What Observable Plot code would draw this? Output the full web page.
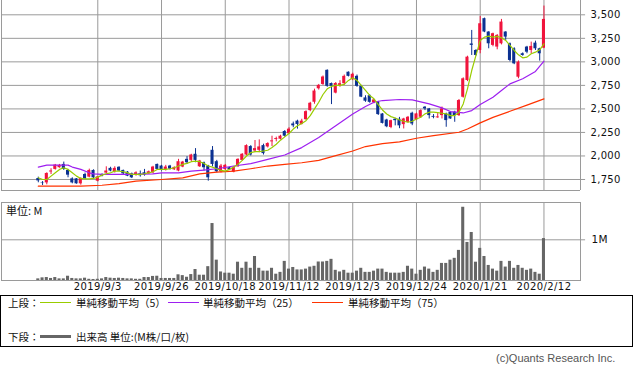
<!DOCTYPE html>
<html><head><meta charset="utf-8">
<script src="https://cdn.jsdelivr.net/npm/d3@7"></script>
<script src="https://cdn.jsdelivr.net/npm/@observablehq/plot@0.6"></script>
<style>
body{margin:0;background:#fff;}
#wrap{position:relative;width:633px;height:375px;overflow:hidden;background:#fff;}
.abs{position:absolute;white-space:nowrap;}
.jp{font-family:"Noto Sans CJK JP","DejaVu Sans",sans-serif;color:#111;}
</style></head><body><div id="wrap"></div>
<script>
// ---- data ----
const open  = [1760,1712,1714,1830,1857,1875,1910,1846,1757,1757,1704,1803,1775,1846,1732,1800,1818,1868,1832,1880,
1846,1828,1810,1793,1810,1821,1810,1821,1910,1893,1857,1893,1853,1840,1882,1964,1953,2018,1885,1928,
1893,2060,1939,1832,1857,1875,1828,1885,1953,2010,2100,2053,2060,2110,2096,2150,2175,2178,2260,2235,
2340,2370,2335,2385,2482,2571,2714,2760,2910,2770,2668,2750,2768,2890,2810,2846,2740,2617,2640,2565,
2570,2446,2382,2303,2390,2390,2333,2358,2454,2383,2411,2518,2500,2420,2405,2429,2447,2465,2465,2429,
2624,2802,3190,3121,3121,3459,3317,3175,3157,3192,3317,3192,3139,2837,3086,3157,3121,3199,3139,3146];
const high  = [1775,1728,1821,1864,1910,1910,1935,1857,1768,1760,1768,1818,1860,1853,1782,1810,1885,1880,1885,1885,
1850,1835,1818,1832,1840,1857,1840,1890,1914,1900,1900,1900,1885,1964,1942,1993,2018,2078,1953,1935,
1900,2100,1953,1910,1910,1880,1885,1970,2025,2118,2110,2164,2171,2125,2140,2210,2200,2220,2270,2300,
2360,2380,2390,2480,2570,2710,2760,2850,2915,2775,2780,2800,2860,2893,2880,2860,2750,2640,2650,2600,
2580,2450,2390,2380,2400,2410,2400,2420,2465,2455,2490,2525,2505,2440,2450,2520,2455,2470,2475,2600,
2830,3060,3334,3130,3483,3465,3320,3305,3290,3451,3320,3200,3150,3010,3095,3165,3210,3220,3145,3593];
const low   = [1715,1686,1693,1803,1850,1870,1846,1768,1704,1700,1690,1750,1768,1760,1725,1778,1810,1832,1818,1835,
1800,1780,1760,1785,1775,1785,1805,1810,1850,1840,1840,1850,1846,1832,1875,1910,1940,1928,1878,1840,
1732,1885,1821,1820,1846,1846,1821,1880,1946,2000,2000,2035,2035,2010,2085,2100,2150,2170,2200,2230,
2300,2285,2330,2380,2470,2550,2700,2750,2730,2546,2660,2730,2750,2840,2800,2730,2620,2570,2560,2555,
2430,2340,2300,2290,2320,2290,2287,2350,2322,2375,2400,2482,2393,2395,2400,2393,2305,2390,2358,2420,
2615,2790,3068,3060,3086,3310,3139,3160,3128,3180,3228,3000,2970,2820,3060,3086,3086,3121,3008,3140];
const close = [1735,1707,1814,1840,1903,1900,1857,1796,1714,1704,1760,1757,1846,1768,1778,1785,1840,1840,1868,1840,
1810,1785,1768,1821,1790,1796,1832,1882,1857,1846,1882,1860,1875,1939,1935,1928,2010,1953,1946,1875,
1768,1910,1832,1893,1900,1853,1880,1964,2018,2110,2010,2078,2096,2025,2132,2160,2185,2210,2210,2285,
2320,2335,2370,2471,2560,2690,2750,2839,2740,2740,2770,2768,2846,2846,2868,2740,2625,2582,2570,2595,
2440,2346,2310,2375,2375,2320,2393,2411,2340,2447,2482,2500,2429,2411,2415,2500,2376,2393,2429,2589,
2820,3050,3175,3068,3405,3317,3192,3299,3281,3423,3263,3015,2979,2997,3068,3103,3164,3139,3086,3451];
// volume in millions of shares
const volume = [0.04,0.065,0.073,0.05,0.073,0.04,0.04,0.105,0.05,0.04,0.04,0.057,0.03,0.025,0.03,0.04,0.073,0.057,0.05,0.057,
0.05,0.04,0.04,0.03,0.03,0.073,0.073,0.10,0.105,0.05,0.05,0.05,0.05,0.14,0.12,0.08,0.146,0.27,0.13,0.13,
0.34,1.40,0.50,0.21,0.18,0.18,0.155,0.45,0.30,0.45,0.30,0.59,0.30,0.23,0.23,0.30,0.155,0.20,0.47,0.28,
0.32,0.26,0.26,0.28,0.33,0.35,0.455,0.455,0.47,0.52,0.25,0.21,0.25,0.18,0.18,0.23,0.30,0.20,0.20,0.23,
0.28,0.28,0.20,0.18,0.18,0.18,0.20,0.35,0.28,0.155,0.25,0.33,0.28,0.20,0.25,0.42,0.42,0.50,0.545,0.74,
1.80,0.935,1.18,0.45,0.79,0.59,0.37,0.28,0.23,0.47,0.33,0.47,0.30,0.37,0.30,0.25,0.28,0.20,0.155,1.03];
// 5-day simple moving average (one value per session)
const ma5 = [1768,1750,1750,1786,1821,1857,1875,1857,1821,1786,1761,1757,1757,1761,1775,1796,1811,1821,1839,1839,
1832,1821,1804,1804,1804,1811,1821,1832,1857,1857,1857,1864,1875,1893,1910,1921,1939,1946,1939,1921,
1893,1882,1864,1846,1839,1857,1882,1910,1953,2000,2036,2046,2046,2053,2061,2089,2125,2168,2203,2239,
2286,2321,2346,2375,2428,2500,2571,2653,2714,2739,2750,2750,2761,2803,2832,2803,2750,2696,2643,2607,
2546,2489,2446,2418,2403,2382,2369,2358,2369,2393,2411,2447,2465,2465,2461,2454,2447,2429,2429,2465,
2553,2713,2908,3068,3228,3263,3274,3263,3270,3256,3228,3175,3121,3075,3043,3050,3086,3103,3128,3192];
// 25-day and 75-day moving averages, read at selected sessions
const ma25Idx = [0,2,7,8,10,12,13,15,22,27,29,33,36,39,42,46,50,54,58,62,66,70,74,77,79,81,85,88,92,95,97,100,102,104,107,109,111,114,117,119];
const ma25Val = [1882,1903,1903,1882,1857,1821,1810,1804,1804,1810,1821,1821,1839,1850,1864,1893,1918,1964,2010,2089,2196,2321,2446,2525,2571,2589,2600,2596,2553,2511,2472,2457,2482,2546,2624,2695,2766,2820,2898,3008];
const ma75Idx = [0,10,15,19,23,29,34,38,42,46,50,54,58,62,66,70,74,77,81,85,89,93,99,101,104,107,111,115,119];
const ma75Val = [1679,1679,1689,1707,1732,1750,1768,1810,1828,1839,1864,1893,1910,1928,1953,2004,2053,2100,2132,2150,2188,2216,2252,2287,2352,2410,2475,2540,2606];
const priceTicks = [1750,2000,2250,2500,2750,3000,3250,3500];
const dateIdx = [14,29,44,59,74,89,104,119];
const dateLabels = ["2019/9/3","2019/9/26","2019/10/18","2019/11/12","2019/12/3","2019/12/24","2020/1/21","2020/2/12"];

// ---- drawing ----
const RED="#f0143c", BLUE="#0b3191", C5="#99cc00", C25="#9d1ff0", C75="#ff3300", GRID="#9a9a9a", VOL="#666666";
const X0=-8.66, X1=127.6, XT=X1+1.2;
const candles = open.map((o,i)=>({i,o,h:high[i],l:low[i],c:close[i],up:close[i]>=o}));
const ma5D = ma5.map((v,i)=>({i,v}));
const ma25D = ma25Idx.map((i,k)=>({i,v:ma25Val[k]}));
const ma75D = ma75Idx.map((i,k)=>({i,v:ma75Val[k]}));
const volD = volume.map((v,i)=>({i,v}));
const wrap = document.getElementById("wrap");

const price = Plot.plot({
  width:633, height:191, marginLeft:1, marginRight:53, marginTop:0, marginBottom:1,
  x:{type:"linear", domain:[X0,X1], axis:null},
  y:{domain:[1633,3652], axis:null},
  style:{fontFamily:"DejaVu Sans", fontSize:"10px", background:"transparent", color:"#111", overflow:"visible", letterSpacing:"0.3px"},
  marks:[
    Plot.ruleY(priceTicks, {x1:X0, x2:XT, stroke:GRID}),
    Plot.ruleX(dateIdx, {stroke:GRID}),
    Plot.ruleX([X0, X1], {stroke:GRID}),
    Plot.ruleY([1633], {x1:X0, x2:X1, stroke:GRID}),
    Plot.ruleX(candles, {x:"i", y1:"l", y2:"h", stroke:d=>d.up?RED:BLUE}),
    Plot.rect(candles, {x1:d=>d.i-0.36, x2:d=>d.i+0.36, y1:"o", y2:"c", fill:d=>d.up?RED:BLUE}),
    Plot.line(ma75D, {x:"i", y:"v", stroke:C75, strokeWidth:1.2}),
    Plot.line(ma25D, {x:"i", y:"v", stroke:C25, strokeWidth:1.2}),
    Plot.line(ma5D, {x:"i", y:"v", stroke:C5, strokeWidth:1.2}),
    Plot.axisY(priceTicks, {anchor:"right", tickSize:0, tickPadding:10, tickFormat:d3.format(","), fontSize:10})
  ]
});
price.style.position="absolute"; price.style.left="0px"; price.style.top="0px";
wrap.appendChild(price);

const labelOf = new Map(dateIdx.map((d,k)=>[d,dateLabels[k]]));
const vol = Plot.plot({
  width:633, height:96, marginLeft:1, marginRight:53, marginTop:2, marginBottom:16,
  x:{type:"linear", domain:[X0,X1], axis:null},
  y:{domain:[0,1.917], axis:null},
  style:{fontFamily:"DejaVu Sans", fontSize:"10px", background:"transparent", color:"#111", overflow:"visible", letterSpacing:"0.4px"},
  marks:[
    Plot.ruleX(dateIdx, {stroke:GRID}),
    Plot.ruleY([1], {x1:X0, x2:XT, stroke:GRID}),
    Plot.rect(volD, {x1:d=>d.i-0.36, x2:d=>d.i+0.36, y1:0, y2:"v", fill:VOL}),
    Plot.frame({stroke:GRID}),
    Plot.text(["1M"], {x:X1, y:1, dx:11, textAnchor:"start", fontSize:10.5, fill:"#111"}),
    Plot.axisX(dateIdx, {anchor:"bottom", tickSize:0, tickPadding:2, tickFormat:d=>labelOf.get(d), fontSize:10})
  ]
});
vol.style.position="absolute"; vol.style.left="0px"; vol.style.top="200px";
wrap.appendChild(vol);

function addText(txt, left, cy, size, extra){
  const d=document.createElement("div");
  d.className="abs jp"; d.textContent=txt;
  d.style.left=left+"px"; d.style.top=(cy-8)+"px"; d.style.lineHeight="16px"; d.style.fontSize=size+"px";
  if(extra) Object.assign(d.style, extra);
  wrap.appendChild(d); return d;
}
function addLine(left, top, w, h, color){
  const d=document.createElement("div");
  d.className="abs"; Object.assign(d.style,{left:left+"px",top:top+"px",width:w+"px",height:h+"px",background:color});
  wrap.appendChild(d);
}
addText("単位: M", 6, 210, 11);
// legend box
const box=document.createElement("div");
box.className="abs"; Object.assign(box.style,{left:"0px",top:"295px",width:"633px",height:"52px",border:"1px solid #000",boxSizing:"border-box"});
wrap.appendChild(box);
addText("上段：", 8, 303, 10.5);
addLine(40, 302, 31, 1, C5);  addText("単純移動平均（5）", 76, 303, 10.5);
addLine(168, 302, 31, 1, C25); addText("単純移動平均（25）", 203, 303, 10.5);
addLine(312, 302, 31, 1, C75); addText("単純移動平均（75）", 348, 303, 10.5);
addText("下段：", 8, 337, 10.5);
addLine(40, 335, 31, 3, VOL); addText("出来高 単位:(M株/口/枚)", 76, 337, 10.5);
addText("(c)Quants Research Inc.", 496, 358, 11, {fontFamily:"'Liberation Sans',sans-serif", color:"#555"});
</script></body></html>
